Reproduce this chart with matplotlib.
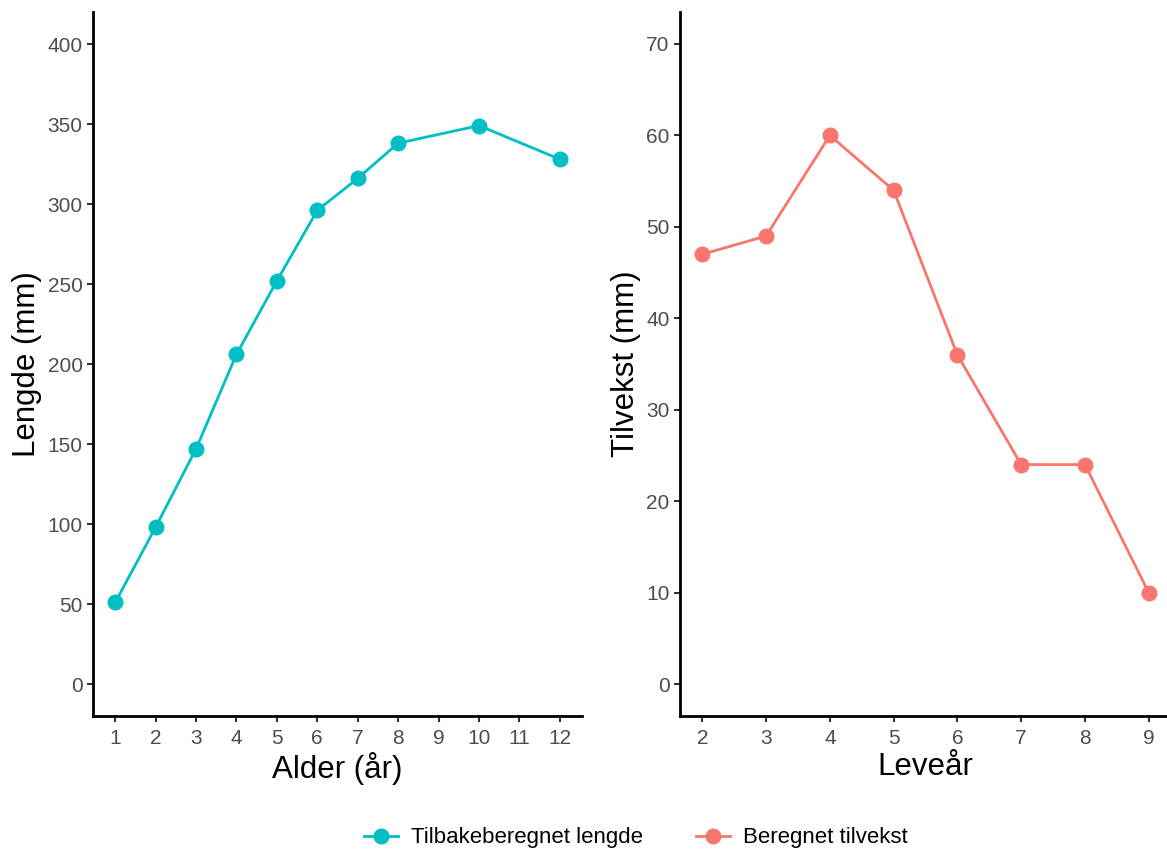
import matplotlib
matplotlib.use("Agg")
import matplotlib.pyplot as plt
from matplotlib.lines import Line2D

alder = [1, 2, 3, 4, 5, 6, 7, 8, 10, 12]
lengde = [51, 98, 147, 206, 252, 296, 316, 338, 349, 328]

levear = [2, 3, 4, 5, 6, 7, 8, 9]
tilvekst = [47, 49, 60, 54, 36, 24, 24, 10]

CYAN = "#00BFC4"
RED = "#F8766D"

plt.rcParams["font.family"] = ["Liberation Sans", "DejaVu Sans"]

fig = plt.figure(figsize=(11.67, 8.49), dpi=100)
W, H = 1167, 849
ax1 = fig.add_axes([93 / W, 1 - 716 / H, (582 - 93) / W, 704 / H])
ax2 = fig.add_axes([680 / W, 1 - 716 / H, (1171 - 680) / W, 704 / H])


def style(ax):
    for s in ["top", "right"]:
        ax.spines[s].set_visible(False)
    for s in ["left", "bottom"]:
        ax.spines[s].set_linewidth(2.0)
        ax.spines[s].set_color("black")
    ax.tick_params(axis="both", length=4.5, width=1.5, color="#333333",
                   labelsize=15, labelcolor="#4D4D4D", pad=3)
    ax.tick_params(axis="x", pad=5)


ax1.plot(alder, lengde, color=CYAN, lw=2.0, marker="o", ms=10.5, zorder=3)
ax1.set_xlim(0.45, 12.55)
ax1.set_ylim(-20, 420)
ax1.set_xticks(range(1, 13))
ax1.set_yticks(range(0, 401, 50))
ax1.set_xlabel("Alder (år)", fontsize=22.5, labelpad=3)
ax1.set_ylabel("Lengde (mm)", fontsize=22.5, labelpad=4)
style(ax1)

ax2.plot(levear, tilvekst, color=RED, lw=2.0, marker="o", ms=10.5, zorder=3)
ax2.set_xlim(1.65, 9.35)
ax2.set_ylim(-3.5, 73.5)
ax2.set_xticks(range(2, 10))
ax2.set_yticks(range(0, 71, 10))
ax2.set_xlabel("Leveår", fontsize=22.5, labelpad=3)
ax2.set_ylabel("Tilvekst (mm)", fontsize=22.5, labelpad=4)
style(ax2)

handles = [
    Line2D([], [], color=CYAN, lw=2.0, marker="o", ms=10.5),
    Line2D([], [], color=RED, lw=2.0, marker="o", ms=10.5),
]
fig.legend(handles, ["Tilbakeberegnet lengde", "Beregnet tilvekst"],
           loc="center", bbox_to_anchor=(636 / W, 1 - 838 / H), ncol=2,
           frameon=False, fontsize=16, handlelength=1.5, columnspacing=2.4,
           handletextpad=0.6)

fig.savefig("out.png", dpi=100)
